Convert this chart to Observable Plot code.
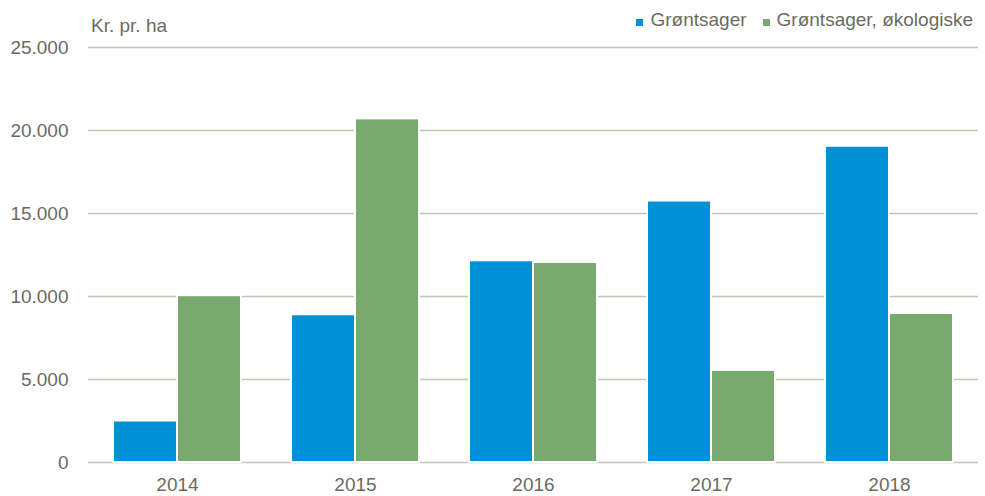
<!DOCTYPE html>
<html>
<head>
<meta charset="utf-8">
<script src="https://cdn.jsdelivr.net/npm/d3@7"></script>
<script src="https://cdn.jsdelivr.net/npm/@observablehq/plot@0.6"></script>
<style>
  html, body { margin: 0; padding: 0; background: #fff; }
  #wrap { position: relative; width: 985px; height: 496px; font-family: "Liberation Sans", Arial, sans-serif; color: #6b6b5f; }
  #unit { position: absolute; left: 91px; top: 15px; font-size: 19px; line-height: 22px; }
  #legend { position: absolute; right: 12px; top: 9px; font-size: 19px; line-height: 22px; display: flex; gap: 16px; }
  #legend span.item { display: inline-flex; align-items: baseline; }
  #legend i { display: inline-block; width: 7px; height: 7px; margin-right: 7px; }
</style>
</head>
<body>
<div id="wrap">
  <div id="chart"></div>
  <div id="unit"></div>
  <div id="legend"></div>
</div>
<script>
const years = ["2014", "2015", "2016", "2017", "2018"];
const seriesNames = ["Grøntsager", "Grøntsager, økologiske"];
const vegetables = [2500, 8900, 12150, 15750, 19050];
const organic = [10050, 20700, 12050, 5550, 8975];
const yTicks = [0, 5000, 10000, 15000, 20000, 25000];
const colors = ["#0090d5", "#78aa6f"];
const unitLabel = "Kr. pr. ha";

const data = years.flatMap((year, i) => [
  {year, series: seriesNames[0], value: vegetables[i]},
  {year, series: seriesNames[1], value: organic[i]}
]);

const fmt = d => d3.format(",")(d).replace(/,/g, ".");
const font = '"Liberation Sans", Arial, sans-serif';

const chart = Plot.plot({
  width: 985,
  height: 496,
  marginLeft: 88,
  marginRight: 7,
  marginTop: 47,
  marginBottom: 34,
  style: {fontFamily: font, fontSize: "19px", color: "#6b6b5f", background: "#fff"},
  fx: {domain: years, padding: 0, label: null, axis: "bottom", tickSize: 0, tickPadding: 15},
  x: {domain: seriesNames, axis: null, paddingInner: 0, paddingOuter: 0.39},
  y: {domain: [0, 25000], ticks: yTicks, tickSize: 0, tickPadding: 20, tickFormat: fmt, label: null},
  color: {domain: seriesNames, range: colors},
  marks: [
    Plot.ruleY(yTicks, {stroke: "#c3c3b7", strokeWidth: 1.5}),
    Plot.barY(data, {fx: "year", x: "series", y: "value", fill: "series", stroke: "#fff", strokeWidth: 2})
  ]
});
document.getElementById("chart").appendChild(chart);

document.getElementById("unit").textContent = unitLabel;
const legend = document.getElementById("legend");
seriesNames.forEach((name, i) => {
  const item = document.createElement("span");
  item.className = "item";
  const sw = document.createElement("i");
  sw.style.background = colors[i];
  item.appendChild(sw);
  item.appendChild(document.createTextNode(name));
  legend.appendChild(item);
});
</script>
</body>
</html>
